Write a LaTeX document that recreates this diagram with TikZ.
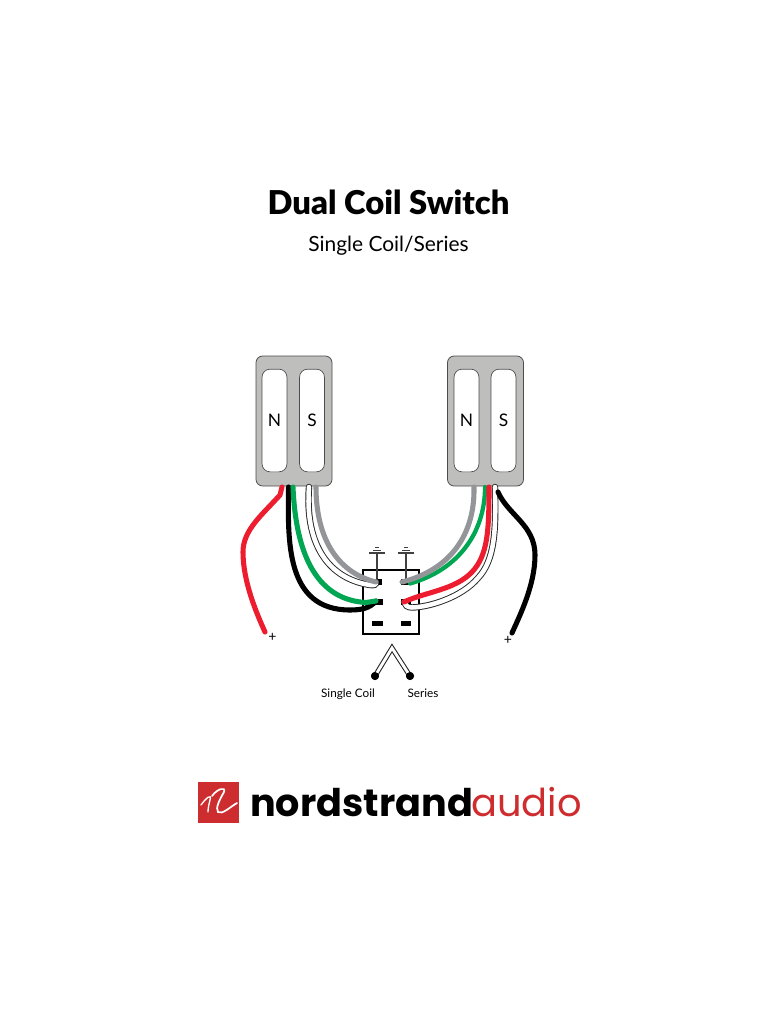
\documentclass[tikz,border=0pt]{standalone}
\usepackage{fontspec}
\setmainfont{Lato}
\newfontfamily\logofont{Poppins}
\newfontfamily\headfont{Lato Black}
\definecolor{wred}{RGB}{237,28,46}
\definecolor{wgreen}{RGB}{0,166,81}
\definecolor{wgray}{RGB}{147,149,152}
\definecolor{pgray}{RGB}{190,190,188}
\definecolor{lred}{RGB}{206,45,48}
\tikzset{
 pickup/.style={draw=black!70,line width=0.6pt,fill=pgray,rounded corners=5pt,minimum width=57pt,minimum height=97.5pt,inner sep=0},
 coil/.style={draw=black!70,line width=0.5pt,fill=white,rounded corners=6pt,minimum width=18.7pt,minimum height=77pt,inner sep=0,font=\fontsize{13}{13}\selectfont},
 lug/.style={fill=black,inner sep=0,minimum width=4.2pt,minimum height=4.2pt},
 wlug/.style={fill=black,inner sep=0,minimum width=8pt,minimum height=4pt},
 wire/.style={line width=3.8pt,line cap=round,line join=round},
 twhite/.style={line width=4.8pt,line cap=round,draw=black!85},
 twhitein/.style={line width=3.4pt,line cap=round,draw=white},
 lab/.style={font=\fontsize{8.8}{9}\selectfont,inner sep=0,anchor=base},
 gnd/.style={line width=0.8pt,draw=black!75},
}
\begin{document}
\begin{tikzpicture}[x=0.75pt,y=-0.75pt]
\useasboundingbox (0,0) rectangle (768,1024);
\fill[white] (0,0) rectangle (768,1024);
\node[inner sep=0,anchor=base,font=\fontsize{24.6}{25}\selectfont\headfont] (title) at (388.5,214) {Dual Coil Switch};
\node[inner sep=0,anchor=base,font=\fontsize{15.7}{16}\selectfont] (sub) at (388.5,251) {Single Coil/Series};
% pickups
\node[pickup] (pl) at (294,421) {};
\node[pickup] (pr) at (485.5,421) {};
\node[coil] (ln) at (274.5,420.5) {N};
\node[coil] (ls) at (312,420.5) {S};
\node[coil] (rn) at (466.5,420.5) {N};
\node[coil] (rs) at (503.5,420.5) {S};
% switch
\node[draw=black,line width=0.8pt,fill=white,minimum width=42pt,minimum height=48pt,inner sep=0] (sw) at (391,602) {};
\node[lug] (a1) at (379.5,582) {};
\node[wlug] (a2) at (378,602) {};
\node[wlug] (a3) at (377.5,623.5) {};
\node[wlug] (b1) at (406,582) {};
\node[wlug] (b2) at (406,602) {};
\node[wlug] (b3) at (406,623.5) {};
\coordinate (g1) at (377,553);
\coordinate (g2) at (406,553);
\coordinate (a1e) at (376,582);
\coordinate (a2e) at (376,601);
\coordinate (b1e) at (402,582);
\coordinate (b2e) at (404,602);
\draw[gnd] (g1) -- (g1 |- a1);
\draw[gnd] (g2) -- (g2 |- b1);
\foreach \g in {g1,g2}{
 \draw[gnd,line width=1.1pt] ([xshift=-6pt]\g) -- ([xshift=6pt]\g);
 \draw[gnd] ([xshift=-3pt,yshift=2.2pt]\g) -- ([xshift=3pt,yshift=2.2pt]\g);
 \draw[gnd] ([xshift=-1.5pt,yshift=4.4pt]\g) -- ([xshift=1.5pt,yshift=4.4pt]\g);
}
% wire origins
\coordinate (lredo) at (282,487);
\coordinate (lblk) at (288.5,487);
\coordinate (lgrn) at (293,487);
\coordinate (lwht) at (309,487);
\coordinate (lgry) at (316,487);
\coordinate (rgry) at (474,487);
\coordinate (rgrn) at (485,487);
\coordinate (rred) at (489,487);
\coordinate (rwht) at (495,487);
\coordinate (rblk) at (498,492);
\node[font=\fontsize{10.5}{10}\selectfont,inner sep=0] (pl1) at (272.5,637.5) {+};
\node[font=\fontsize{10.5}{10}\selectfont,inner sep=0] (pl2) at (508,640.5) {+};
% left wires
\draw[wire,wred] (lredo) -- (280,495) .. controls (262,515) and (243,530) .. (243,552) .. controls (243,580) and (255,610) .. (265,632);
\draw[wire,black] (lblk) .. controls (288,540) and (285,610) .. (350,610) .. controls (362,610) and (370,608) .. (a2e);
\draw[wire,wgreen] (lgrn) .. controls (296,560) and (320,600) .. (366,602.5) -- (a2e);
\draw[twhite] (lwht) .. controls (305,540) and (325,578) .. (370,585) .. controls (374,585.5) and (376,585) .. (a1e);
\draw[twhitein] (lwht) .. controls (305,540) and (325,578) .. (370,585) .. controls (374,585.5) and (376,585) .. (a1e);
\draw[wire,wgray] (lgry) .. controls (316,535) and (335,572) .. (a1e);
% right wires
\draw[wire,wgreen,line width=3.2pt] (rgrn) .. controls (485,533) and (458,570) .. (410,583.5);
\draw[wire,wgray] (rgry) .. controls (475,535) and (450,570) .. (b1e);
\draw[twhite] (rwht) .. controls (496,530) and (495,560) .. (478,578) .. controls (462,597) and (430,607) .. (412,607.5) .. controls (407,607.5) and (405,605) .. (b2e);
\draw[twhitein] (rwht) .. controls (496,530) and (495,560) .. (478,578) .. controls (462,597) and (430,607) .. (412,607.5) .. controls (407,607.5) and (405,605) .. (b2e);
\draw[wire,wred] (rred) .. controls (489,530) and (488,555) .. (472,572) .. controls (455,590) and (425,592) .. (b2e);
\draw[wire,black] (rblk) .. controls (508,515) and (535,525) .. (535,555) .. controls (535,585) and (520,615) .. (512,633);
% toggle
\coordinate (apex) at (392,648);
\node[circle,fill=black,inner sep=0,minimum size=6pt] (t1) at (375,676) {};
\node[circle,fill=black,inner sep=0,minimum size=6pt] (t2) at (410,676) {};
\draw[line width=3.7pt,black!85,line join=miter] (t1.center) -- (apex) -- (t2.center);
\draw[line width=2.1pt,white,line join=miter] (t1.center) -- (apex) -- (t2.center);
\node[circle,fill=black,inner sep=0,minimum size=6pt] at (t1) {};
\node[circle,fill=black,inner sep=0,minimum size=6pt] at (t2) {};
\node[lab] (sc) at (348,697) {Single Coil};
\node[lab] (se) at (423,697) {Series};
% logo
\node[fill=lred,minimum size=30.5pt,inner sep=0] (mark) at (218.5,802.5) {};
\draw[white,line width=1pt,line cap=round] (201,805) .. controls (206,798) and (212,793) .. (210,800) .. controls (209,804) and (208,808) .. (208,812);
\draw[white,line width=1.3pt,line cap=round] (212,796) .. controls (217,789) and (226,786) .. (224,792) .. controls (220,799) and (215,808) .. (218,812) .. controls (222,815) and (230,807) .. (237,803);
\node[inner sep=0,anchor=base west,font=\fontsize{28.6}{29}\selectfont\logofont\bfseries] (ns) at (250,816.5) {nordstrand};
\node[inner sep=0,anchor=base west,text=lred,font=\fontsize{28.8}{29}\selectfont\logofont] (au) at (471,816.5) {audio};
\end{tikzpicture}
\end{document}
